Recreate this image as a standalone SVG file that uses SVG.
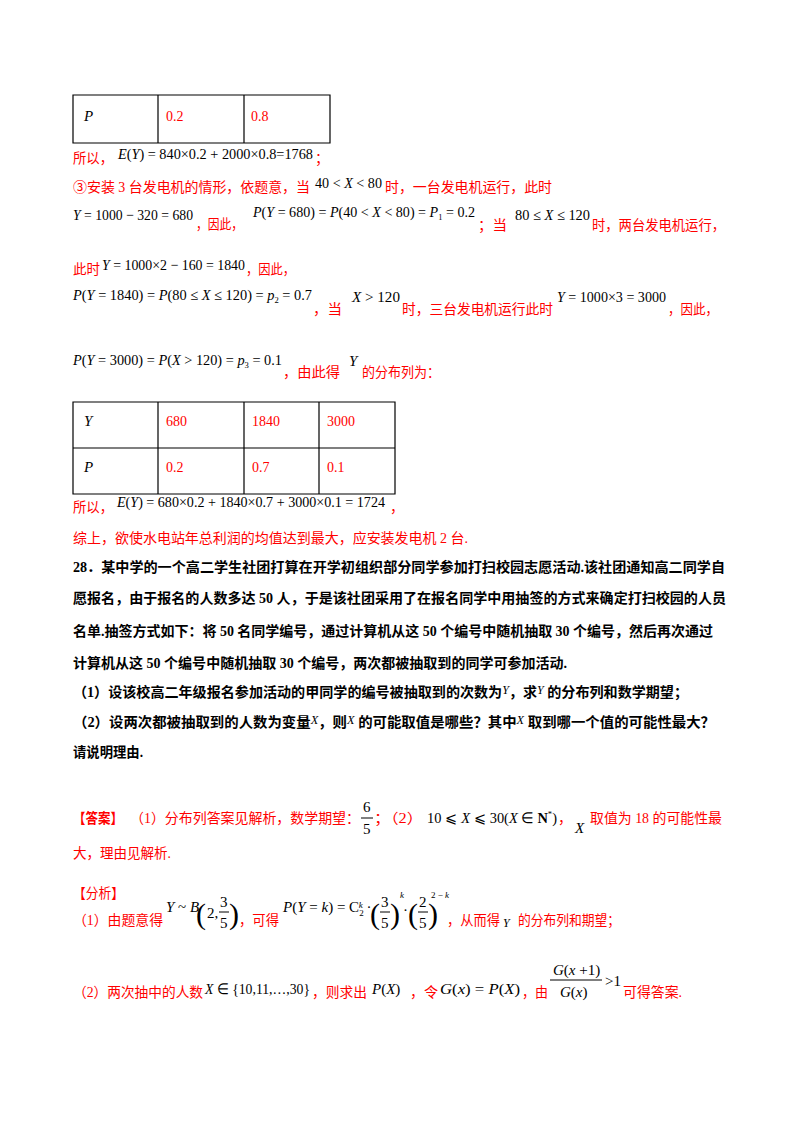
<svg xmlns="http://www.w3.org/2000/svg" width="800" height="1132" viewBox="0 0 800 1132">
<style>
.r{font-family:"Liberation Serif","Noto Sans CJK SC",serif;font-size:14px;fill:#ff0000}
.rb{font-family:"Liberation Serif","Noto Sans CJK SC",serif;font-size:14px;fill:#ff0000;font-weight:bold}
.b{font-family:"Liberation Serif","Noto Sans CJK SC",serif;font-size:14px;fill:#000;font-weight:bold}
.m{font-family:"Liberation Serif",serif;font-size:15px;fill:#000}
.mr{font-family:"Liberation Serif",serif;font-size:14px;fill:#ff0000}
.i{font-style:italic}
.pa{font-size:30px;font-weight:100}
.sup{font-size:9px}
.t{fill:none;stroke:#000;stroke-width:1.2}
</style>
<rect width="800" height="1132" fill="#fff"/>
<g id="table1">
<path class="t" d="M73,95H330V143H73Z M158,95V143 M244,95V143"/>
<text class="m i" x="84" y="121">P</text>
<text class="mr" x="166" y="121">0.2</text>
<text class="mr" x="251" y="121">0.8</text>
</g>
<text class="r" x="73" y="163" textLength="40" lengthAdjust="spacingAndGlyphs">所以，</text>
<text class="m" x="118" y="159" textLength="195" lengthAdjust="spacingAndGlyphs"><tspan class="i">E</tspan>(<tspan class="i">Y</tspan>) = 840×0.2 + 2000×0.8=1768</text>
<text class="r" x="315" y="163">；</text>
<text class="r" x="73" y="192" textLength="237" lengthAdjust="spacingAndGlyphs">③安装 3 台发电机的情形，依题意，当</text>
<text class="m" x="315" y="188" textLength="67" lengthAdjust="spacingAndGlyphs">40 &lt; <tspan class="i">X</tspan> &lt; 80</text>
<text class="r" x="385" y="192" textLength="167" lengthAdjust="spacingAndGlyphs">时，一台发电机运行，此时</text>
<text class="m" x="73" y="220" textLength="120" lengthAdjust="spacingAndGlyphs"><tspan class="i">Y</tspan> = 1000 − 320 = 680</text>
<text class="r" x="196" y="229" textLength="47" lengthAdjust="spacingAndGlyphs">，因此，</text>
<text class="m" x="253" y="217" textLength="222" lengthAdjust="spacingAndGlyphs"><tspan class="i">P</tspan>(<tspan class="i">Y</tspan> = 680) = <tspan class="i">P</tspan>(40 &lt; <tspan class="i">X</tspan> &lt; 80) = <tspan class="i">P</tspan><tspan class="sup" dy="3">1</tspan><tspan dy="-3"> = 0.2</tspan></text>
<text class="r" x="478" y="230" textLength="29" lengthAdjust="spacingAndGlyphs">；当</text>
<text class="m" x="515" y="220" textLength="75" lengthAdjust="spacingAndGlyphs">80 ≤ <tspan class="i">X</tspan> ≤ 120</text>
<text class="r" x="592" y="230" textLength="133" lengthAdjust="spacingAndGlyphs">时，两台发电机运行，</text>
<text class="r" x="73" y="274" textLength="27" lengthAdjust="spacingAndGlyphs">此时</text>
<text class="m" x="102" y="270" textLength="143" lengthAdjust="spacingAndGlyphs"><tspan class="i">Y</tspan> = 1000×2 − 160 = 1840</text>
<text class="r" x="246" y="274" textLength="49" lengthAdjust="spacingAndGlyphs">，因此，</text>
<text class="m" x="73" y="300" textLength="239" lengthAdjust="spacingAndGlyphs"><tspan class="i">P</tspan>(<tspan class="i">Y</tspan> = 1840) = <tspan class="i">P</tspan>(80 ≤ <tspan class="i">X</tspan> ≤ 120) = <tspan class="i">p</tspan><tspan class="sup" dy="3">2</tspan><tspan dy="-3"> = 0.7</tspan></text>
<text class="r" x="313" y="314" textLength="29" lengthAdjust="spacingAndGlyphs">，当</text>
<text class="m" x="352" y="302" textLength="48" lengthAdjust="spacingAndGlyphs"><tspan class="i">X</tspan> &gt; 120</text>
<text class="r" x="402" y="314" textLength="151" lengthAdjust="spacingAndGlyphs">时，三台发电机运行此时</text>
<text class="m" x="557" y="302" textLength="109" lengthAdjust="spacingAndGlyphs"><tspan class="i">Y</tspan> = 1000×3 = 3000</text>
<text class="r" x="668" y="314" textLength="50" lengthAdjust="spacingAndGlyphs">，因此，</text>
<text class="m" x="73" y="365" textLength="209" lengthAdjust="spacingAndGlyphs"><tspan class="i">P</tspan>(<tspan class="i">Y</tspan> = 3000) = <tspan class="i">P</tspan>(<tspan class="i">X</tspan> &gt; 120) = <tspan class="i">p</tspan><tspan class="sup" dy="3">3</tspan><tspan dy="-3"> = 0.1</tspan></text>
<text class="r" x="283" y="377" textLength="57" lengthAdjust="spacingAndGlyphs">，由此得</text>
<text class="m i" x="349" y="366">Y</text>
<text class="r" x="362" y="377" textLength="78" lengthAdjust="spacingAndGlyphs">的分布列为：</text>
<g id="table2">
<path class="t" d="M73,402H395V494H73Z M73,448H395 M158,402V494 M244,402V494 M319,402V494"/>
<text class="m i" x="84" y="426">Y</text>
<text class="mr" x="166" y="426">680</text>
<text class="mr" x="252" y="426">1840</text>
<text class="mr" x="327" y="426">3000</text>
<text class="m i" x="84" y="472">P</text>
<text class="mr" x="166" y="472">0.2</text>
<text class="mr" x="252" y="472">0.7</text>
<text class="mr" x="327" y="472">0.1</text>
</g>
<text class="r" x="73" y="512" textLength="40" lengthAdjust="spacingAndGlyphs">所以，</text>
<text class="m" x="117" y="507" textLength="268" lengthAdjust="spacingAndGlyphs"><tspan class="i">E</tspan>(<tspan class="i">Y</tspan>) = 680×0.2 + 1840×0.7 + 3000×0.1 = 1724</text>
<text class="r" x="390" y="512">，</text>
<text class="r" x="73" y="543" textLength="395" lengthAdjust="spacingAndGlyphs">综上，欲使水电站年总利润的均值达到最大，应安装发电机 2 台.</text>
<text class="b" x="73" y="572" textLength="652" lengthAdjust="spacingAndGlyphs">28．某中学的一个高二学生社团打算在开学初组织部分同学参加打扫校园志愿活动.该社团通知高二同学自</text>
<text class="b" x="73" y="603" textLength="653" lengthAdjust="spacingAndGlyphs">愿报名，由于报名的人数多达 50 人，于是该社团采用了在报名同学中用抽签的方式来确定打扫校园的人员</text>
<text class="b" x="73" y="636" textLength="640" lengthAdjust="spacingAndGlyphs">名单.抽签方式如下：将 50 名同学编号，通过计算机从这 50 个编号中随机抽取 30 个编号，然后再次通过</text>
<text class="b" x="73" y="668" textLength="494" lengthAdjust="spacingAndGlyphs">计算机从这 50 个编号中随机抽取 30 个编号，两次都被抽取到的同学可参加活动.</text>
<text class="b" x="73" y="697" textLength="615" lengthAdjust="spacingAndGlyphs">（1）设该校高二年级报名参加活动的甲同学的编号被抽取到的次数为<tspan font-weight="normal" font-style="italic" font-size="12" dy="-3">Y</tspan><tspan dy="3">，求</tspan><tspan font-weight="normal" font-style="italic" font-size="12" dy="-3">Y</tspan><tspan dy="3"> 的分布列和数学期望；</tspan></text>
<text class="b" x="73" y="727" textLength="642" lengthAdjust="spacingAndGlyphs">（2）设两次都被抽取到的人数为变量<tspan font-weight="normal" font-style="italic" font-size="12" dy="-3">X</tspan><tspan dy="3">，则</tspan><tspan font-weight="normal" font-style="italic" font-size="12" dy="-3">X</tspan><tspan dy="3"> 的可能取值是哪些？其中</tspan><tspan font-weight="normal" font-style="italic" font-size="12" dy="-3">X</tspan><tspan dy="3"> 取到哪一个值的可能性最大？</tspan></text>
<text class="b" x="73" y="757" textLength="70" lengthAdjust="spacingAndGlyphs">请说明理由.</text>
<text class="rb" x="73" y="823" textLength="50" lengthAdjust="spacingAndGlyphs">【答案】</text>
<text class="r" x="130" y="823" textLength="230" lengthAdjust="spacingAndGlyphs">（1）分布列答案见解析，数学期望：</text>
<text class="m" x="363" y="812">6</text>
<line x1="361" y1="818" x2="373" y2="818" stroke="#000"/>
<text class="m" x="363" y="834">5</text>
<text class="r" x="374" y="823" textLength="49" lengthAdjust="spacingAndGlyphs">；（2）</text>
<text class="m" x="427" y="823" textLength="130" lengthAdjust="spacingAndGlyphs">10 ⩽ <tspan class="i">X</tspan> ⩽ 30(<tspan class="i">X</tspan> ∈ <tspan font-weight="bold">N</tspan><tspan class="sup" dy="-6">*</tspan><tspan dy="6">)</tspan></text>
<text class="r" x="558" y="823">，</text>
<text class="m i" x="575" y="833">X</text>
<text class="r" x="590" y="823" textLength="132" lengthAdjust="spacingAndGlyphs">取值为 18 的可能性最</text>
<text class="r" x="73" y="858" textLength="98" lengthAdjust="spacingAndGlyphs">大，理由见解析.</text>
<text class="r" x="73" y="898" textLength="51" lengthAdjust="spacingAndGlyphs">【分析】</text>
<text class="r" x="73" y="925" textLength="90" lengthAdjust="spacingAndGlyphs">（1）由题意得</text>
<text class="m" x="166" y="912"><tspan class="i">Y</tspan> ~ <tspan class="i">B</tspan></text>
<text class="m pa" x="196" y="924">(</text>
<text class="m" x="207" y="918">2,</text>
<text class="m" x="220" y="907">3</text>
<line x1="219" y1="912" x2="229" y2="912" stroke="#000"/>
<text class="m" x="220" y="928">5</text>
<text class="m pa" x="229" y="924">)</text>
<text class="r" x="239" y="925" textLength="40" lengthAdjust="spacingAndGlyphs">，可得</text>
<text class="m" x="283" y="912"><tspan class="i">P</tspan>(<tspan class="i">Y</tspan> = <tspan class="i">k</tspan>) = C<tspan class="sup" dy="4">2</tspan><tspan class="sup i" dx="-5" dy="-8">k</tspan><tspan dy="4"> ·</tspan></text>
<text class="m pa" x="370" y="924">(</text>
<text class="m" x="381" y="907">3</text>
<line x1="380" y1="912" x2="390" y2="912" stroke="#000"/>
<text class="m" x="381" y="928">5</text>
<text class="m pa" x="390" y="924">)</text>
<text class="m sup i" x="400" y="898">k</text>
<text class="m" x="403" y="915">·</text>
<text class="m pa" x="408" y="924">(</text>
<text class="m" x="419" y="907">2</text>
<line x1="418" y1="912" x2="428" y2="912" stroke="#000"/>
<text class="m" x="419" y="928">5</text>
<text class="m pa" x="428" y="924">)</text>
<text class="m sup" x="431" y="898">2 − <tspan class="i">k</tspan></text>
<text class="r" x="447" y="925" textLength="53" lengthAdjust="spacingAndGlyphs">，从而得</text>
<text class="m i" x="503" y="927" style="font-size:12px">Y</text>
<text class="r" x="518" y="925" textLength="102" lengthAdjust="spacingAndGlyphs">的分布列和期望；</text>
<text class="r" x="73" y="997" textLength="130" lengthAdjust="spacingAndGlyphs">（2）两次抽中的人数</text>
<text class="m" x="205" y="994" textLength="105" lengthAdjust="spacingAndGlyphs"><tspan class="i">X</tspan> ∈ {10,11,…,30}</text>
<text class="r" x="312" y="997" textLength="55" lengthAdjust="spacingAndGlyphs">，则求出</text>
<text class="m" x="372" y="994"><tspan class="i">P</tspan>(<tspan class="i">X</tspan>)</text>
<text class="r" x="410" y="997" textLength="28" lengthAdjust="spacingAndGlyphs">，令</text>
<text class="m" x="440" y="994" textLength="80" lengthAdjust="spacingAndGlyphs"><tspan class="i">G</tspan>(<tspan class="i">x</tspan>) = <tspan class="i">P</tspan>(<tspan class="i">X</tspan>)</text>
<text class="r" x="522" y="997" textLength="26" lengthAdjust="spacingAndGlyphs">，由</text>
<text class="m" x="553" y="975"><tspan class="i">G</tspan>(<tspan class="i">x</tspan> +1)</text>
<line x1="550" y1="980" x2="602" y2="980" stroke="#000"/>
<text class="m" x="560" y="997"><tspan class="i">G</tspan>(<tspan class="i">x</tspan>)</text>
<text class="m" x="605" y="986">&gt;1</text>
<text class="r" x="623" y="997" textLength="59" lengthAdjust="spacingAndGlyphs">可得答案.</text>
</svg>
